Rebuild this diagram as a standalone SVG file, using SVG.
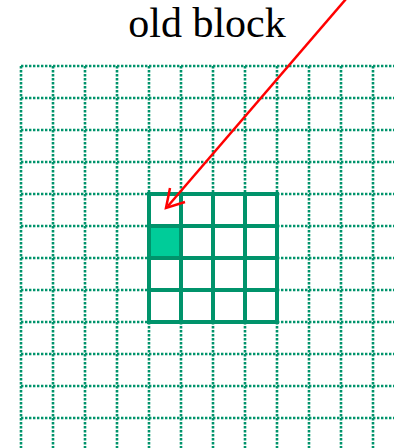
<svg xmlns="http://www.w3.org/2000/svg" width="394" height="448" viewBox="0 0 394 448">
<style>
.dot{stroke:#00936B;stroke-width:2.6;stroke-dasharray:2.4 1.6;fill:none}
.blk{stroke:#00936B;stroke-width:4;fill:none}
.lbl{font-family:"Liberation Serif","Times New Roman",serif;font-size:42px;fill:#000}
.arr{stroke:#FF0000;stroke-width:2.5;fill:none}
</style>
<rect width="394" height="448" fill="#fff"/>
<g id="label"><text class="lbl" x="207" y="37" text-anchor="middle">old block</text></g>
<g id="grid">
<path class="dot" d="M21,66V448M53,66V448M85,66V448M117,66V448M149,66V448M181,66V448M213,66V448M245,66V448M277,66V448M309,66V448M341,66V448M373,66V448"/>
<path class="dot" d="M21,66H394M21,98H394M21,130H394M21,162H394M21,194H394M21,226H394M21,258H394M21,290H394M21,322H394M21,354H394M21,386H394M21,418H394"/>
</g>
<g id="block">
<rect x="151" y="228" width="28" height="28" fill="#00CC99"/>
<rect class="blk" x="149" y="194" width="128" height="128"/>
<path class="blk" d="M181,194V322M213,194V322M245,194V322M149,226H277M149,258H277M149,290H277"/>
</g>
<g id="connectors">
<path class="arr" d="M352,-8 L168,206"/>
<path class="arr" d="M170,188 L166,208 L185,202"/>
</g>
</svg>
